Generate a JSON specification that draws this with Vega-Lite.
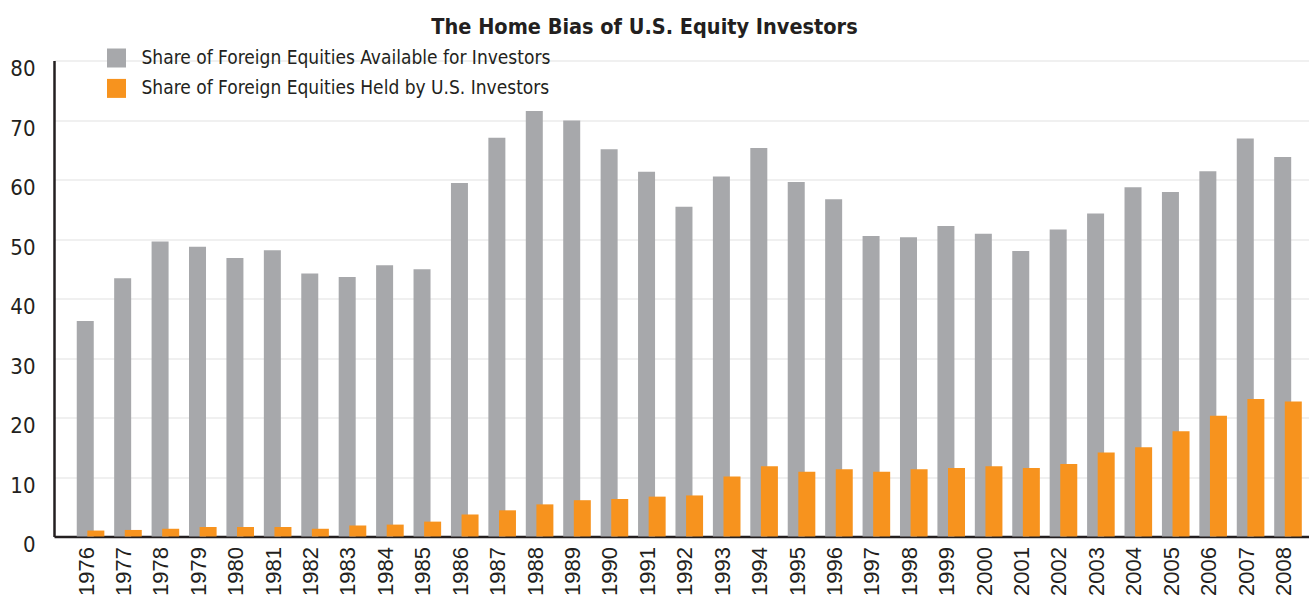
{
  "$schema": "https://vega.github.io/schema/vega-lite/v6.json",
  "autosize": {"type": "none"},
  "padding": {"left": 54, "top": 60.5, "right": 0, "bottom": 62.5},
  "width": 1255,
  "height": 476,
  "title": {
    "text": "The Home Bias of U.S. Equity Investors",
    "anchor": "middle",
    "dx": -37,
    "offset": 10,
    "font": "Liberation Sans Narrow, DejaVu Sans Condensed, Roboto, sans-serif",
    "fontSize": 21.5,
    "fontWeight": "bold",
    "color": "#231f20"
  },
  "datasets": {
    "shares": [
      {"year": "1976", "available": 36.2, "held": 1.0},
      {"year": "1977", "available": 43.4, "held": 1.1},
      {"year": "1978", "available": 49.6, "held": 1.3},
      {"year": "1979", "available": 48.7, "held": 1.6},
      {"year": "1980", "available": 46.8, "held": 1.6},
      {"year": "1981", "available": 48.1, "held": 1.6},
      {"year": "1982", "available": 44.2, "held": 1.3},
      {"year": "1983", "available": 43.6, "held": 1.85},
      {"year": "1984", "available": 45.6, "held": 2.0},
      {"year": "1985", "available": 44.9, "held": 2.5},
      {"year": "1986", "available": 59.4, "held": 3.7},
      {"year": "1987", "available": 67.0, "held": 4.4},
      {"year": "1988", "available": 71.5, "held": 5.4},
      {"year": "1989", "available": 69.9, "held": 6.1},
      {"year": "1990", "available": 65.1, "held": 6.3},
      {"year": "1991", "available": 61.3, "held": 6.7},
      {"year": "1992", "available": 55.4, "held": 6.9},
      {"year": "1993", "available": 60.5, "held": 10.1},
      {"year": "1994", "available": 65.3, "held": 11.8},
      {"year": "1995", "available": 59.6, "held": 10.9},
      {"year": "1996", "available": 56.7, "held": 11.3},
      {"year": "1997", "available": 50.5, "held": 10.9},
      {"year": "1998", "available": 50.3, "held": 11.3},
      {"year": "1999", "available": 52.2, "held": 11.5},
      {"year": "2000", "available": 50.9, "held": 11.8},
      {"year": "2001", "available": 48.0, "held": 11.5},
      {"year": "2002", "available": 51.6, "held": 12.2},
      {"year": "2003", "available": 54.3, "held": 14.1},
      {"year": "2004", "available": 58.7, "held": 15.0},
      {"year": "2005", "available": 57.9, "held": 17.7},
      {"year": "2006", "available": 61.4, "held": 20.3},
      {"year": "2007", "available": 66.9, "held": 23.1},
      {"year": "2008", "available": 63.8, "held": 22.7}
    ]
  },
  "data": {"name": "shares"},
  "transform": [
    {"fold": ["available", "held"], "as": ["key", "share"]},
    {"lookup": "key", "from": {"data": {"values": [
      {"key": "available", "series": "Share of Foreign Equities Available for Investors"},
      {"key": "held", "series": "Share of Foreign Equities Held by U.S. Investors"}
    ]}, "key": "key", "fields": ["series"]}}
  ],
  "encoding": {
    "x": {
      "field": "year",
      "type": "ordinal",
      "scale": {"paddingInner": 0, "paddingOuter": 0.269, "align": 0.886},
      "axis": {
        "title": null,
        "labelAngle": -90,
        "labelAlign": "right",
        "labelBaseline": "middle",
        "labelOffset": -4,
        "labelPadding": 10,
        "labelFont": "Liberation Sans, Roboto, sans-serif",
        "labelFontSize": 22,
        "labelColor": "#231f20",
        "ticks": false,
        "domainColor": "#231f20",
        "domainWidth": 2.5,
        "grid": false
      }
    },
    "y": {
      "field": "share",
      "type": "quantitative",
      "scale": {"domain": [0, 80], "nice": false},
      "axis": {
        "title": null,
        "values": [0, 10, 20, 30, 40, 50, 60, 70, 80],
        "labelFont": "Liberation Sans Narrow, DejaVu Sans Condensed, Roboto, sans-serif",
        "labelFontSize": 22,
        "labelColor": "#231f20",
        "labelOffset": 8,
        "labelPadding": 19,
        "labelOverlap": false,
        "ticks": false,
        "domainColor": "#231f20",
        "domainWidth": 2.5,
        "grid": true,
        "gridColor": "#ebebeb",
        "gridWidth": 1.5
      }
    },
    "color": {
      "field": "series",
      "type": "nominal",
      "scale": {
        "domain": ["Share of Foreign Equities Available for Investors", "Share of Foreign Equities Held by U.S. Investors"],
        "range": ["#a7a8ab", "#f7931e"]
      },
      "legend": {
        "title": null,
        "orient": "none",
        "legendX": 53,
        "legendY": -12,
        "padding": 0,
        "symbolType": "square",
        "symbolSize": 361,
        "symbolStrokeWidth": 0,
        "symbolOpacity": 1,
        "labelFont": "Liberation Sans Narrow, DejaVu Sans Condensed, Roboto, sans-serif",
        "labelFontSize": 19,
        "labelColor": "#231f20",
        "labelOffset": 15.5,
        "labelLimit": 600,
        "rowPadding": 10.4
      }
    }
  },
  "layer": [
    {
      "transform": [{"filter": "datum.key === 'available'"}],
      "mark": {"type": "bar", "width": 17, "xOffset": -5.3}
    },
    {
      "transform": [{"filter": "datum.key === 'held'"}],
      "mark": {"type": "bar", "width": 17, "xOffset": 5.3}
    }
  ],
  "config": {
    "view": {"stroke": null},
    "background": "white"
  }
}
